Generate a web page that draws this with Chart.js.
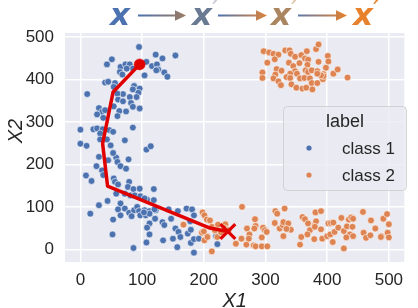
<!DOCTYPE html>
<html>
<head>
<meta charset="utf-8">
<script src="https://cdn.jsdelivr.net/npm/chart.js@4.4.1/dist/chart.umd.min.js"></script>
<style>
  html, body { margin: 0; padding: 0; background: #fff; }
  #wrap { width: 418px; height: 308px; }
</style>
</head>
<body>
<div id="wrap"><canvas id="chart" width="418" height="308"></canvas></div>
<script>
// ---- data ----
const seriesNames = ["class 1", "class 2"];
const legendTitle = "label";
const xTicks = [0, 100, 200, 300, 400, 500];
const yTicks = [0, 100, 200, 300, 400, 500];

const class1X = [95, 51, 43, 65, 73, 80, 85, 64, 68, 75, 122, 133, 154, 107, 116, 124, 126, 123, 136, 141,
  104, 40, 45, 56, 54, 87, 96, 85, 94, 91, 80, 69, 60, 11, 61, 69, 82, 85, 96, 74,
  63, 54, 60, 30, 35, 27, 40, 37, 0, 21, 27, 36, 32, 47, 53, 85, 32, 43, 72, 0,
  10, 49, 107, 114, 30, 45, 58, 60, 53, 65, 74, 78, 26, 35, 37, 9, 18, 54, 56, 61,
  79, 77, 86, 96, 119, 72, 81, 88, 97, 58, 108, 119, 44, 65, 30, 61, 72, 79, 87, 92,
  95, 104, 112, 122, 16, 53, 65, 83, 97, 106, 121, 52, 86, 104, 120, 112, 112, 108, 112, 107,
  134, 133, 136, 143, 147, 154, 159, 150, 157, 162, 172, 181, 184, 178, 174, 179, 184, 192, 184, 222,
  220, 179, 158, 103];
const class1Y = [477, 448, 436, 430, 436, 436, 426, 418, 412, 426, 459, 450, 457, 442, 432, 436, 424, 422, 417, 407,
  410, 393, 395, 392, 383, 385, 379, 377, 369, 359, 359, 366, 367, 366, 353, 349, 345, 336, 332, 325,
  326, 337, 314, 333, 324, 318, 328, 310, 282, 283, 285, 283, 273, 281, 277, 287, 259, 259, 257, 249,
  244, 245, 235, 243, 218, 210, 216, 206, 227, 196, 190, 212, 196, 186, 175, 174, 161, 167, 159, 153,
  159, 147, 142, 143, 142, 131, 127, 127, 125, 131, 117, 116, 114, 108, 104, 94, 96, 86, 92, 100,
  90, 92, 90, 92, 84, 70, 80, 78, 80, 80, 72, 35, 3, 120, 94, 84, 61, 51, 35, 16,
  21, 64, 57, 94, 72, 49, 41, 25, 5, 29, 96, 94, 80, 66, 37, 15, 24, 25, -8, 12,
  31, 46, 90, 87];

const class2X = [198, 201, 208, 167, 197, 205, 213, 223, 213, 201, 205, 210, 200, 206, 218, 222, 235, 252, 262, 261,
  270, 269, 274, 273, 283, 284, 282, 281, 284, 294, 294, 296, 299, 302, 303, 316, 319, 331, 315, 323,
  328, 329, 337, 341, 329, 334, 360, 364, 358, 356, 369, 372, 368, 379, 380, 382, 381, 390, 380, 390,
  392, 400, 402, 406, 410, 405, 409, 412, 418, 423, 427, 427, 432, 435, 439, 442, 441, 437, 442, 431,
  458, 459, 463, 470, 471, 478, 488, 491, 497, 500, 498, 500, 487, 233, 240, 228,
  297, 306, 313, 321, 332, 339, 341, 348, 358, 367, 382, 386, 303, 315, 338, 345, 355, 364, 369, 368,
  386, 401, 402, 398, 318, 326, 348, 351, 340, 365, 369, 375, 384, 394, 410, 417, 433, 295, 295, 316,
  313, 321, 325, 334, 340, 356, 363, 372, 375, 384, 393, 394, 342, 350, 360, 366, 376, 390, 384];
const class2Y = [87, 80, 68, 58, 39, 31, 53, 58, -5, 21, 70, 68, 42, 29, 45, 29, 59, 13, 100, 25,
  49, 11, 35, 25, 71, 55, 49, 9, 7, 7, 28, 51, 45, 41, 7, 90, 84, 96, 62, 49,
  57, 64, 61, 46, 31, 48, 76, 71, 29, 11, 61, 45, 35, 24, 57, 66, 87, 90, 53, 47,
  25, 31, 61, 62, 63, 35, 17, 41, 51, 74, 43, 2, 54, 70, 75, 72, 53, 35, 31, 28,
  88, 39, 27, 33, 68, 49, 31, 72, 83, 59, 39, 28, 29, 50, 45, 40,
  467, 464, 461, 459, 469, 469, 461, 454, 458, 467, 472, 483, 440, 448, 440, 432, 439, 450, 447, 435,
  442, 456, 443, 428, 425, 421, 420, 414, 414, 422, 418, 422, 420, 413, 414, 424, 405, 417, 404, 412,
  403, 396, 387, 406, 404, 403, 404, 403, 392, 392, 401, 408, 389, 381, 379, 381, 377, 410, 414];

// red trajectory: start dot -> cross
const pathX = [96, 53, 36, 44, 210, 239];
const pathY = [436, 371, 249, 149, 50, 42];

// ---- styles ----
const BLUE = "#4C72B0";
const ORANGE = "#DD8452";
const RED = "#E00000";
const BG = "#EAEAF2";
const TEXT = "#262626";
const FONT = '"Liberation Sans", Arial, sans-serif';
const MATH = '"DejaVu Sans", sans-serif';

const toPts = (xs, ys) => xs.map((x, i) => ({ x: x, y: ys[i] }));

const lastIdx = pathX.length - 1;

// background of the axes area (seaborn darkgrid)
const bgPlugin = {
  id: "bg",
  beforeDraw(chart) {
    const { ctx, chartArea: a } = chart;
    ctx.save();
    ctx.fillStyle = BG;
    ctx.fillRect(a.left, a.top, a.right - a.left, a.bottom - a.top);
    ctx.restore();
  },
};

// title arrows, axis labels, legend box
const decorPlugin = {
  id: "decor",
  afterDraw(chart) {
    const { ctx, chartArea: a } = chart;
    ctx.save();

    // --- title: x -> x' -> x' -> x' ---
    const letters = [
      { cx: 120, color: BLUE, prime: null },
      { cx: 202, color: "#6A7A92", prime: "#C6C9D3" },
      { cx: 281, color: "#AA8560", prime: "#DCC3A6" },
      { cx: 363, color: "#E8812B", prime: "#E8812B" },
    ];
    ctx.textAlign = "center";
    ctx.textBaseline = "alphabetic";
    letters.forEach((l) => {
      ctx.font = "bold italic 31px " + MATH;
      ctx.fillStyle = l.color;
      ctx.fillText("x", l.cx, 25);
      if (l.prime) {
        ctx.font = "italic 32px " + MATH;
        ctx.fillStyle = l.prime;
        ctx.fillText("\u2032", l.cx + 14, 21);
      }
    });

    const arrows = [
      { x0: 138, x1: 186, c0: BLUE, c1: "#9B7B62" },
      { x0: 218, x1: 267, c0: BLUE, c1: "#DD843A" },
      { x0: 298, x1: 347, c0: "#5F78A8", c1: "#E8822A" },
    ];
    const ay = 15.5;
    arrows.forEach((ar) => {
      const g = ctx.createLinearGradient(ar.x0, 0, ar.x1, 0);
      g.addColorStop(0, ar.c0);
      g.addColorStop(1, ar.c1);
      ctx.strokeStyle = g;
      ctx.fillStyle = g;
      ctx.lineWidth = 2;
      ctx.beginPath();
      ctx.moveTo(ar.x0, ay);
      ctx.lineTo(ar.x1 - 9, ay);
      ctx.stroke();
      ctx.beginPath();
      ctx.moveTo(ar.x1, ay);
      ctx.lineTo(ar.x1 - 11, ay - 5.3);
      ctx.lineTo(ar.x1 - 11, ay + 5.3);
      ctx.closePath();
      ctx.fill();
    });

    // --- axis titles ---
    ctx.fillStyle = TEXT;
    ctx.font = "italic 20px " + FONT;
    ctx.textAlign = "center";
    ctx.fillText("X1", (a.left + a.right) / 2, 307);
    ctx.save();
    ctx.translate(22, 131);
    ctx.rotate(-Math.PI / 2);
    ctx.fillText("X2", 0, 0);
    ctx.restore();

    // --- legend ---
    const lx = 283.5, ly = 106.5, lw = 123, lh = 84;
    ctx.beginPath();
    ctx.roundRect(lx, ly, lw, lh, 4);
    ctx.fillStyle = "rgba(234,234,242,0.8)";
    ctx.fill();
    ctx.strokeStyle = "rgba(204,204,204,0.8)";
    ctx.lineWidth = 1;
    ctx.stroke();

    ctx.fillStyle = TEXT;
    ctx.textBaseline = "middle";
    ctx.textAlign = "center";
    ctx.font = "18px " + FONT;
    ctx.fillText(legendTitle, 345, 122);

    const colors = [BLUE, ORANGE];
    seriesNames.forEach((name, i) => {
      const y = 148 + i * 27;
      ctx.beginPath();
      ctx.arc(309, y, 2.6, 0, Math.PI * 2);
      ctx.fillStyle = colors[i];
      ctx.fill();
      ctx.fillStyle = TEXT;
      ctx.textAlign = "left";
      ctx.font = "17px " + FONT;
      ctx.fillText(name, 342, y + 1);
    });

    ctx.restore();
  },
};

const axisCommon = {
  type: "linear",
  grid: { color: "#FFFFFF", lineWidth: 1.5, drawTicks: false },
  border: { display: false },
  ticks: { color: TEXT, font: { size: 17, family: FONT }, maxRotation: 0, autoSkip: false },
};

new Chart(document.getElementById("chart"), {
  type: "scatter",
  data: {
    datasets: [
      {
        label: "path",
        data: toPts(pathX, pathY),
        showLine: true,
        borderColor: RED,
        borderWidth: 3.5,
        borderJoinStyle: "round",
        tension: 0,
        pointStyle: pathX.map((_, i) => (i === lastIdx ? "crossRot" : "circle")),
        pointRadius: pathX.map((_, i) => (i === 0 ? 5.5 : i === lastIdx ? 10.5 : 0)),
        pointBorderWidth: pathX.map((_, i) => (i === lastIdx ? 3.2 : 0.5)),
        pointBackgroundColor: RED,
        pointBorderColor: RED,
        order: 0,
      },
      {
        label: seriesNames[0],
        data: toPts(class1X, class1Y),
        backgroundColor: BLUE,
        borderColor: "#FFFFFF",
        borderWidth: 0.6,
        pointRadius: 3.4,
        order: 2,
      },
      {
        label: seriesNames[1],
        data: toPts(class2X, class2Y),
        backgroundColor: ORANGE,
        borderColor: "#FFFFFF",
        borderWidth: 0.6,
        pointRadius: 3.4,
        order: 1,
      },
    ],
  },
  options: {
    responsive: false,
    animation: false,
    layout: { padding: { top: 33, right: 2, left: 0, bottom: 0 } },
    plugins: {
      legend: { display: false },
      tooltip: { enabled: false },
      title: { display: false },
    },
    scales: {
      x: {
        ...axisCommon,
        min: -25,
        max: 525,
        ticks: { ...axisCommon.ticks, padding: 8 },
        afterBuildTicks: (s) => { s.ticks = xTicks.map((v) => ({ value: v })); },
        afterFit: (s) => { s.height = 46; },
      },
      y: {
        ...axisCommon,
        min: -30,
        max: 510,
        ticks: { ...axisCommon.ticks, padding: 11 },
        afterBuildTicks: (s) => { s.ticks = yTicks.map((v) => ({ value: v })); },
        afterFit: (s) => { s.width = 65; },
      },
    },
  },
  plugins: [bgPlugin, decorPlugin],
});
</script>
</body>
</html>
